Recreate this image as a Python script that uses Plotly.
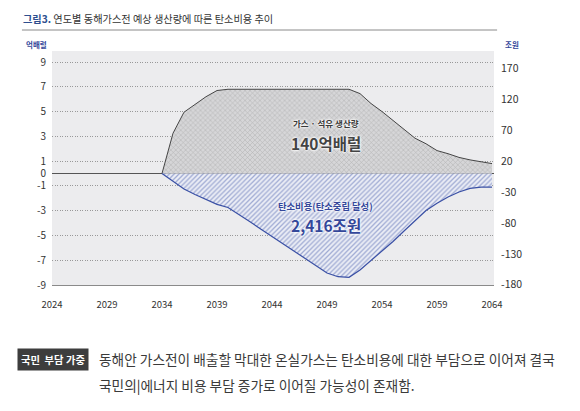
import plotly.graph_objects as go

# 연도
years = list(range(2034, 2065))

# 가스·석유 생산량 (억배럴, 왼쪽 축)
production = [0, 3.25, 4.95, 5.6, 6.2, 6.7, 6.8, 6.8, 6.8, 6.8, 6.8, 6.8, 6.8,
              6.8, 6.8, 6.8, 6.8, 6.8, 6.45, 5.65, 5.0, 4.3, 3.55, 2.85, 2.4,
              1.85, 1.6, 1.3, 1.1, 0.95, 0.8]

# 탄소비용 (조원, 오른쪽 축)
carbon_cost = [0, -13, -25, -34, -42, -50, -55, -66, -78, -90, -102, -114, -126,
               -138, -150, -161, -167, -168, -156, -141, -126, -110, -93, -76, -60,
               -48, -38, -30, -24, -22, -22]

left_ticks = [9, 7, 5, 3, 1, 0, -1, -3, -5, -7, -9]
right_ticks = [170, 120, 70, 20, -30, -80, -130, -180]
x_ticks = [2024, 2029, 2034, 2039, 2044, 2049, 2054, 2059, 2064]

FONT = "Noto Sans CJK KR"
BLUE = "#34479a"

fig = go.Figure()

fig.add_trace(go.Scatter(
    x=years, y=production, mode="lines", fill="tozeroy",
    line=dict(color="#454545", width=1),
    fillcolor="rgba(0,0,0,0)",
    fillpattern=dict(shape="x", size=3.5, solidity=0.3,
                     fgcolor="#8e8e8e", bgcolor="#d6d6d8"),
    showlegend=False, hoverinfo="skip",
))

fig.add_trace(go.Scatter(
    x=years, y=carbon_cost, mode="lines", fill="tozeroy", yaxis="y2",
    line=dict(color="#3a50a5", width=1.2),
    fillcolor="rgba(0,0,0,0)",
    fillpattern=dict(shape="/", size=3.4, solidity=0.38,
                     fgcolor="#5266b0", bgcolor="#eceef6"),
    showlegend=False, hoverinfo="skip",
))

fig.update_layout(
    width=580, height=411,
    margin=dict(l=44, r=94, t=43, b=134),
    paper_bgcolor="white",
    plot_bgcolor="#ececee",
    font=dict(family=FONT, color="#333333", size=10),
    xaxis=dict(
        range=[2024, 2064.18], tickvals=x_ticks, ticks="",
        showgrid=False, zeroline=False,
        showline=True, linecolor="#8a8a8a", linewidth=1,
        tickfont=dict(size=9.5, color="#333"), ticklabelstandoff=11,
    ),
    yaxis=dict(
        range=[-9, 9.89], tickvals=left_ticks,
        ticktext=[str(v) for v in left_ticks], ticks="",
        showgrid=True, gridcolor="#999999", griddash="1px,1.5px", gridwidth=0.8,
        zeroline=True, zerolinecolor="#555555", zerolinewidth=1.3,
        tickfont=dict(size=10, color="#333"), ticklabelstandoff=5,
    ),
    yaxis2=dict(
        overlaying="y", side="right",
        range=[-180.4, 198.2], tickvals=right_ticks,
        ticktext=[str(v) for v in right_ticks], ticks="",
        showgrid=False, zeroline=False,
        tickfont=dict(size=10.5, color="#333"), ticklabelstandoff=6,
    ),
)

halo = "0 0 3px white, 0 0 3px white, 0 0 2px white"

fig.add_annotation(x=2048.9, y=4.05, text="가스 · 석유 생산량", showarrow=False,
                   font=dict(size=8.5, color="#3a3a3a", shadow=halo, weight=600))
fig.add_annotation(x=2048.9, y=2.49, text="140억배럴", showarrow=False,
                   font=dict(size=15.5, color="#444444", shadow=halo, weight=600))
fig.add_annotation(x=2048.9, y=-52.6, yref="y2", text="탄소비용(탄소중립 달성)",
                   showarrow=False,
                   font=dict(size=9.3, color=BLUE, shadow=halo, weight=700))
fig.add_annotation(x=2048.9, y=-83.3, yref="y2", text="2,416조원", showarrow=False,
                   font=dict(size=15.5, color=BLUE, shadow=halo, weight=700))

# 제목
fig.add_annotation(
    xref="paper", yref="paper", x=-0.07, y=1.1397, xanchor="left", yanchor="middle",
    showarrow=False,
    text="<b><span style='color:#2e4f8f'>그림3.</span></b> 연도별 동해가스전 예상 생산량에 따른 탄소비용 추이",
    font=dict(size=10.2, color="#333333"),
)
fig.add_shape(type="line", xref="paper", yref="paper", x0=-0.068, x1=1.007,
              y0=1.0897, y1=1.0897, line=dict(color="#8a8a8a", width=1))

# 축 단위
fig.add_annotation(xref="paper", yref="paper", x=-0.063, y=1.026,
                   xanchor="left", yanchor="middle", showarrow=False,
                   text="<b>억배럴</b>", font=dict(size=7.5, color=BLUE))
fig.add_annotation(xref="paper", yref="paper", x=1.02, y=1.026,
                   xanchor="left", yanchor="middle", showarrow=False,
                   text="<b>조원</b>", font=dict(size=7.5, color=BLUE))

# 하단 설명
fig.add_annotation(xref="paper", yref="paper", x=-0.079, y=-0.32, xanchor="left",
                   yanchor="middle", showarrow=False,
                   text="<b>국민  부담 가중</b>", bgcolor="#3d3d3d", borderpad=3,
                   font=dict(size=10.3, color="white"))
fig.add_annotation(xref="paper", yref="paper", x=0.102, y=-0.316, xanchor="left",
                   yanchor="middle", showarrow=False,
                   text="동해안 가스전이 배출할 막대한 온실가스는 탄소비용에 대한 부담으로 이어져 결국",
                   font=dict(size=13.7, color="#3a3a3a"))
fig.add_annotation(xref="paper", yref="paper", x=0.102, y=-0.427, xanchor="left",
                   yanchor="middle", showarrow=False,
                   text="국민의<span style='color:#222'>|</span>에너지 비용 부담 증가로 이어질 가능성이 존재함.",
                   font=dict(size=13.7, color="#3a3a3a"))

fig.write_html("out.html")
